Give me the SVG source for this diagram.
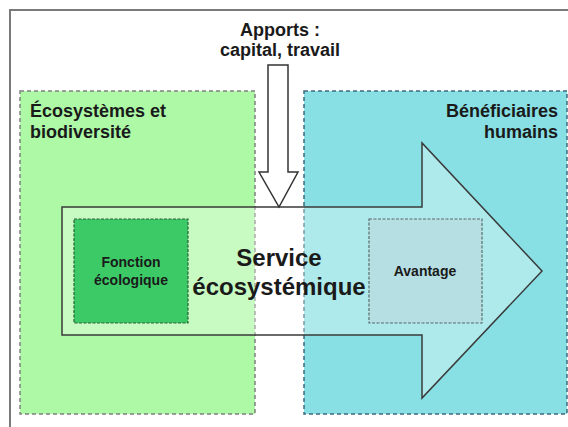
<svg xmlns="http://www.w3.org/2000/svg" width="568" height="427" viewBox="0 0 568 427">
<style>
text{font-family:"Liberation Sans",Arial,sans-serif;font-weight:bold;fill:#1a1a1a}
.t18{font-size:18px}
.t24{font-size:24px}
.t14{font-size:14px}
.mid{text-anchor:middle}
</style>
<rect x="0" y="0" width="568" height="427" fill="#ffffff"/>
<rect x="10" y="10" width="620" height="480" fill="none" stroke="#7a7a7a" stroke-width="2"/>
<g id="ecosystemes">
<rect x="20" y="91" width="235" height="323" fill="#adf9a6" stroke="#808080" stroke-width="1.5" stroke-dasharray="4,3"/>
<text class="t18" x="30" y="117">Écosystèmes et</text>
<text class="t18" x="30" y="138">biodiversité</text>
</g>
<g id="beneficiaires">
<rect x="304" y="91" width="263" height="323" fill="#88e0e4" stroke="#3d6a80" stroke-width="1.5" stroke-dasharray="4,3"/>
<text class="t18" x="558" y="117" text-anchor="end">Bénéficiaires</text>
<text class="t18" x="558" y="138" text-anchor="end">humains</text>
</g>
<g id="connectors">
<g id="service">
<path d="M62,207 H422 V143 L542,271 L422,398 V335 H62 Z" fill="#ffffff" fill-opacity="0.32" stroke="#3a3a3a" stroke-width="1.5" stroke-linejoin="miter"/>
<text class="t24 mid" x="279" y="266">Service</text>
<text class="t24 mid" x="279" y="295">écosystémique</text>
</g>
<g id="apports">
<path d="M268,65 H288 V172 H298 L279,207 L259,172 H268 Z" fill="#ffffff" stroke="#333333" stroke-width="1.5"/>
<text class="t18 mid" x="280" y="36">Apports :</text>
<text class="t18 mid" x="280" y="56">capital, travail</text>
</g>
</g>
<g id="fonction">
<rect x="74" y="219" width="114" height="104" fill="#3cca66" stroke="#2d5e3a" stroke-width="1.2" stroke-dasharray="3,1.5"/>
<text class="t14 mid" x="131" y="267">Fonction</text>
<text class="t14 mid" x="131" y="285">écologique</text>
</g>
<g id="avantage">
<rect x="369" y="219" width="113" height="104" fill="#b6dfe3" stroke="#5a6a6a" stroke-width="1.2" stroke-dasharray="3,1.5"/>
<text class="t14 mid" x="425" y="276">Avantage</text>
</g>
</svg>
